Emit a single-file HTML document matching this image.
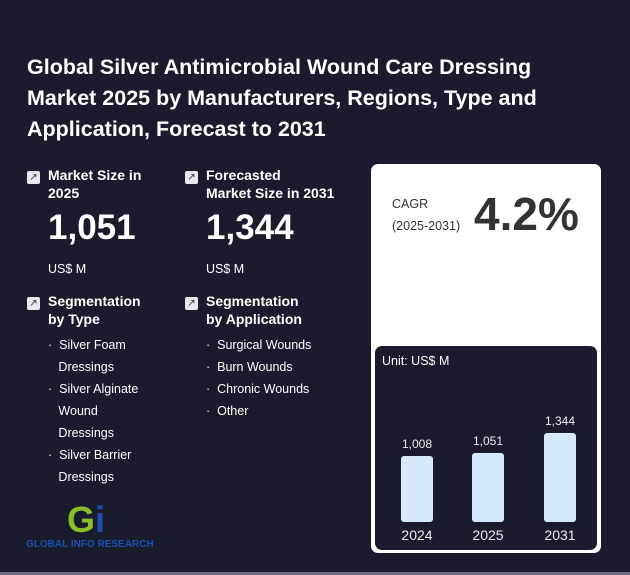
<!DOCTYPE html>
<html><head><meta charset="utf-8"><style>
*{margin:0;padding:0;box-sizing:border-box}
body{width:630px;height:575px;background:#1a1c2e;font-family:"Liberation Sans",Arial,sans-serif;color:#fff;position:relative;overflow:hidden}
.a{position:absolute}
.t{left:27px;top:52px;font-size:21.5px;font-weight:bold;line-height:31px;width:545px}
.ic{width:13px;height:13px;background:#e6e8f0;border-radius:2px;color:#333;font-size:10px;line-height:13px;text-align:center}
.h{font-size:14px;font-weight:bold;line-height:18px}
.big{font-size:35px;font-weight:bold}
.s{font-size:12.5px}
.li{font-size:12.5px;line-height:22px}
.bar{background:#d6e8fc;border-radius:3px;width:32px}
.bl{font-size:12px;color:#eee;text-align:center;width:60px}
</style></head><body>
<div class="a t">Global Silver Antimicrobial Wound Care Dressing Market 2025 by Manufacturers, Regions, Type and Application, Forecast to 2031</div>

<div class="a ic" style="left:27px;top:171px">↗</div>
<div class="a h" style="left:48px;top:166px">Market Size in<br>2025</div>
<div class="a big" style="left:48px;top:208px">1,051</div>
<div class="a s" style="left:48px;top:262px">US$ M</div>

<div class="a ic" style="left:185px;top:171px">↗</div>
<div class="a h" style="left:206px;top:166px">Forecasted<br>Market Size in 2031</div>
<div class="a big" style="left:206px;top:208px">1,344</div>
<div class="a s" style="left:206px;top:262px">US$ M</div>

<div class="a ic" style="left:27px;top:297px">↗</div>
<div class="a h" style="left:48px;top:292px">Segmentation<br>by Type</div>
<div class="a li" style="left:48px;top:334px">·&nbsp;&nbsp;Silver Foam<br>&nbsp;&nbsp;&nbsp;Dressings<br>·&nbsp;&nbsp;Silver Alginate<br>&nbsp;&nbsp;&nbsp;Wound<br>&nbsp;&nbsp;&nbsp;Dressings<br>·&nbsp;&nbsp;Silver Barrier<br>&nbsp;&nbsp;&nbsp;Dressings</div>

<div class="a ic" style="left:185px;top:297px">↗</div>
<div class="a h" style="left:206px;top:292px">Segmentation<br>by Application</div>
<div class="a li" style="left:206px;top:334px">·&nbsp;&nbsp;Surgical Wounds<br>·&nbsp;&nbsp;Burn Wounds<br>·&nbsp;&nbsp;Chronic Wounds<br>·&nbsp;&nbsp;Other</div>

<div class="a" style="left:67px;top:502px;font-size:36px;font-weight:bold;line-height:36px"><span style="color:#8bbf2a">G</span><span style="color:#1e4fb0">i</span></div>
<div class="a" style="left:26px;top:539px;font-size:10px;font-weight:bold;color:#1e4fb0">GLOBAL INFO RESEARCH</div>

<div class="a" style="left:371px;top:164px;width:230px;height:389px;background:#fff;border-radius:7px"></div>
<div class="a" style="left:392px;top:193px;font-size:12.5px;color:#333;line-height:22px">CAGR<br>(2025-2031)</div>
<div class="a" style="left:474px;top:187px;font-size:46px;font-weight:bold;color:#333">4.2%</div>
<div class="a" style="left:375px;top:346px;width:222px;height:204px;background:#1a1c2e;border-radius:7px"></div>
<div class="a" style="left:382px;top:354px;font-size:12.5px">Unit: US$ M</div>

<div class="a bar" style="left:401px;top:456px;height:66px"></div>
<div class="a bar" style="left:472px;top:453px;height:69px"></div>
<div class="a bar" style="left:544px;top:433px;height:89px"></div>
<div class="a bl" style="left:387px;top:437px">1,008</div>
<div class="a bl" style="left:458px;top:434px">1,051</div>
<div class="a bl" style="left:530px;top:414px">1,344</div>
<div class="a bl" style="left:387px;top:527px;font-size:14px">2024</div>
<div class="a bl" style="left:458px;top:527px;font-size:14px">2025</div>
<div class="a bl" style="left:530px;top:527px;font-size:14px">2031</div>
<div class="a" style="left:0;top:572px;width:630px;height:3px;background:#6b6e7c"></div>
</body></html>
